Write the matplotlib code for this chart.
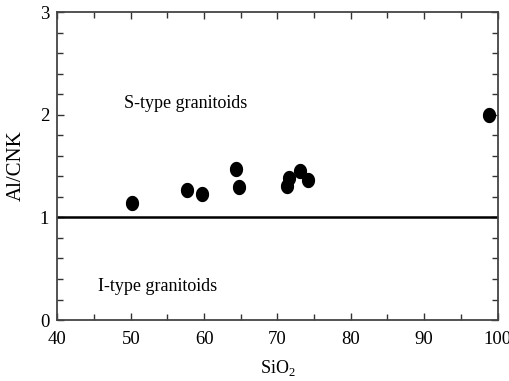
import matplotlib
matplotlib.use("Agg")
import matplotlib.pyplot as plt
import numpy as np
from matplotlib.path import Path
from matplotlib.ticker import MultipleLocator

plt.rcParams['font.family'] = ['Liberation Serif', 'DejaVu Serif']
plt.rcParams['mathtext.fontset'] = 'custom'
plt.rcParams['mathtext.rm'] = 'Liberation Serif'

# sample compositions
sio2 = [50.2, 57.7, 59.75, 64.35, 64.7, 71.3, 71.6, 73.1, 74.2, 98.9]
acnk = [1.14, 1.27, 1.23, 1.47, 1.30, 1.31, 1.38, 1.45, 1.36, 2.00]

# S/I boundary
boundary_x = [40, 100]
boundary_y = [1.0, 1.0]

# slightly tall oval marker
t = np.linspace(0, 2 * np.pi, 60)
oval = Path(np.column_stack([0.85 * np.cos(t), np.sin(t)]), closed=True)

fig = plt.figure(figsize=(5.10, 3.81), dpi=100)
ax = fig.add_axes([0.1127, 0.160, 0.8628, 0.8085])

ax.plot(boundary_x, boundary_y, color='black', lw=1.8)
ax.plot(sio2, acnk, ls='none', marker=oval, ms=10, color='black')

ax.text(49.1, 2.11, 'S-type granitoids', fontsize=13, va='center')
ax.text(45.5, 0.33, 'I-type granitoids', fontsize=13, va='center')

ax.set_xlim(40, 100)
ax.set_ylim(0, 3)
ax.xaxis.set_major_locator(MultipleLocator(10))
ax.xaxis.set_minor_locator(MultipleLocator(5))
ax.yaxis.set_major_locator(MultipleLocator(1))
ax.yaxis.set_minor_locator(MultipleLocator(0.2))
ax.tick_params(which='both', direction='in', top=True, right=True,
               color='#333333', width=1.0)
ax.tick_params(which='major', length=5, labelsize=13.5)
ax.tick_params(which='minor', length=4)
ax.tick_params(axis='x', pad=8)
ax.tick_params(axis='y', pad=6)
for s in ax.spines.values():
    s.set_color('#444444')
    s.set_linewidth(1.3)

ax.set_xlabel(r'SiO$_\mathrm{2}$', fontsize=13, labelpad=7)
ax.set_ylabel('Al/CNK', fontsize=15, labelpad=10)

fig.savefig('out.png', dpi=100)
